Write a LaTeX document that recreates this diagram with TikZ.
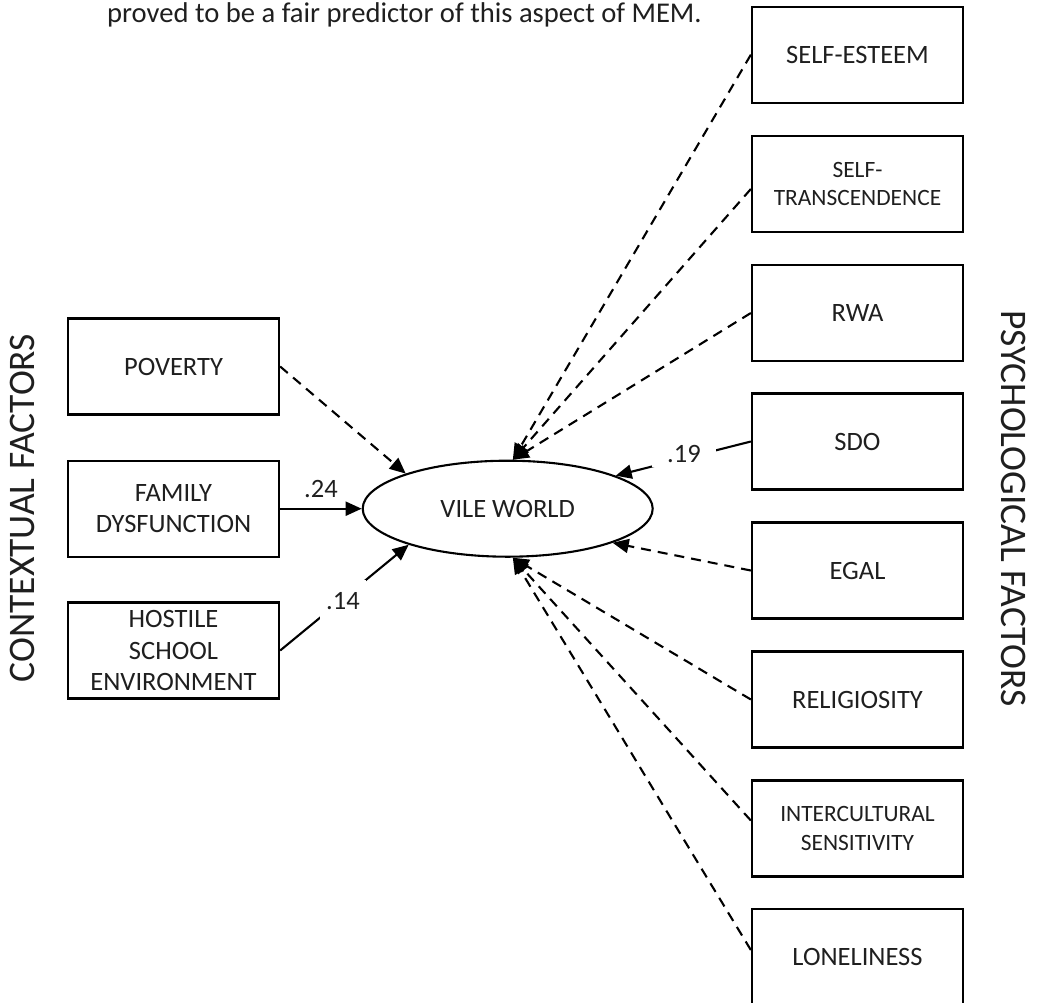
\documentclass[tikz,border=0pt]{standalone}
\usepackage{fontspec}
\setmainfont{Carlito}
\usetikzlibrary{arrows.meta,shapes.geometric}
\begin{document}
\begin{tikzpicture}[x=1pt,y=-1pt,
  every node/.style={text=black!88},
  box/.style={draw=black, line width=2.3pt, minimum width=211pt, minimum height=96pt,
    inner sep=0pt, align=center, font=\fontsize{26.5}{31.7}\selectfont},
  smallbox/.style={box, font=\fontsize{23.4}{28.4}\selectfont},
  conn/.style={line width=2.1pt, -{Triangle[length=16pt,width=14pt]}},
  dashconn/.style={conn, dash pattern=on 10pt off 7pt},
  coef/.style={font=\fontsize{26.5}{30}\selectfont, inner sep=0pt},
  side/.style={font=\fontsize{37.5}{40}\selectfont, inner sep=0pt}
]
\clip (0,0) rectangle (1041,1002);
\fill[white] (0,0) rectangle (1041,1002);

% top text
\node[anchor=base west, inner sep=0pt, font=\fontsize{28.6}{32}\selectfont] (top) at (107,22)
  {proved to be a fair predictor of this aspect of MEM.};

% side labels
\node[side, rotate=90] (ctx) at (22.5,508) {CONTEXTUAL FACTORS};
\node[side, rotate=-90] (psy) at (1014,508.5) {PSYCHOLOGICAL FACTORS};

% left boxes
\node[box] (pov) at (173.5,366.5) {POVERTY};
\node[box] (fam) at (173.5,508.7) {FAMILY\\DYSFUNCTION};
\node[box] (hos) at (173.5,650.5) {HOSTILE\\SCHOOL\\ENVIRONMENT};

% central ellipse
\node[ellipse, draw=black, line width=2.1pt, minimum width=290pt, minimum height=96pt,
  inner sep=0pt, font=\fontsize{26.5}{30}\selectfont] (vile) at (507.7,508.7) {VILE WORLD};

% right boxes
\node[box] (se) at (857.5,54.7) {SELF-ESTEEM};
\node[smallbox] (st) at (857.5,184) {SELF-\\TRANSCENDENCE};
\node[box] (rwa) at (857.5,313) {RWA};
\node[box] (sdo) at (857.5,441.5) {SDO};
\node[box] (egal) at (857.5,570.5) {EGAL};
\node[box] (rel) at (857.5,699.5) {RELIGIOSITY};
\node[smallbox] (inter) at (857.5,828.5) {INTERCULTURAL\\SENSITIVITY};
\node[box] (lone) at (857.5,957) {LONELINESS};

% connectors
\draw[dashconn] (pov.east) -- (vile.161);
\draw[conn] (fam.east) -- (vile.west);
\draw[conn] (hos.east) -- (vile.200);
\draw[dashconn] (se.west) -- (vile.84);
\draw[dashconn] ([yshift=-5pt]st.west) -- (vile.84);
\draw[dashconn] (rwa.west) -- (vile.84);
\draw[conn] (sdo.west) -- (vile.17);
\draw[dashconn] (egal.west) -- (vile.342);
\draw[dashconn] (rel.west) -- (vile.276);
\draw[dashconn] ([yshift=8pt]inter.west) -- (vile.276);
\draw[dashconn] ([yshift=7pt]lone.west) -- (vile.276);

% coefficients
\node[coef] (c24) at (321,489) {.24};
\node[coef, fill=white, inner xsep=15pt, inner ysep=4pt] (c19) at (684,454) {.19};
\node[coef, fill=white, inner xsep=6pt, inner ysep=12pt] (c14) at (343,601) {.14};
\end{tikzpicture}
\end{document}
